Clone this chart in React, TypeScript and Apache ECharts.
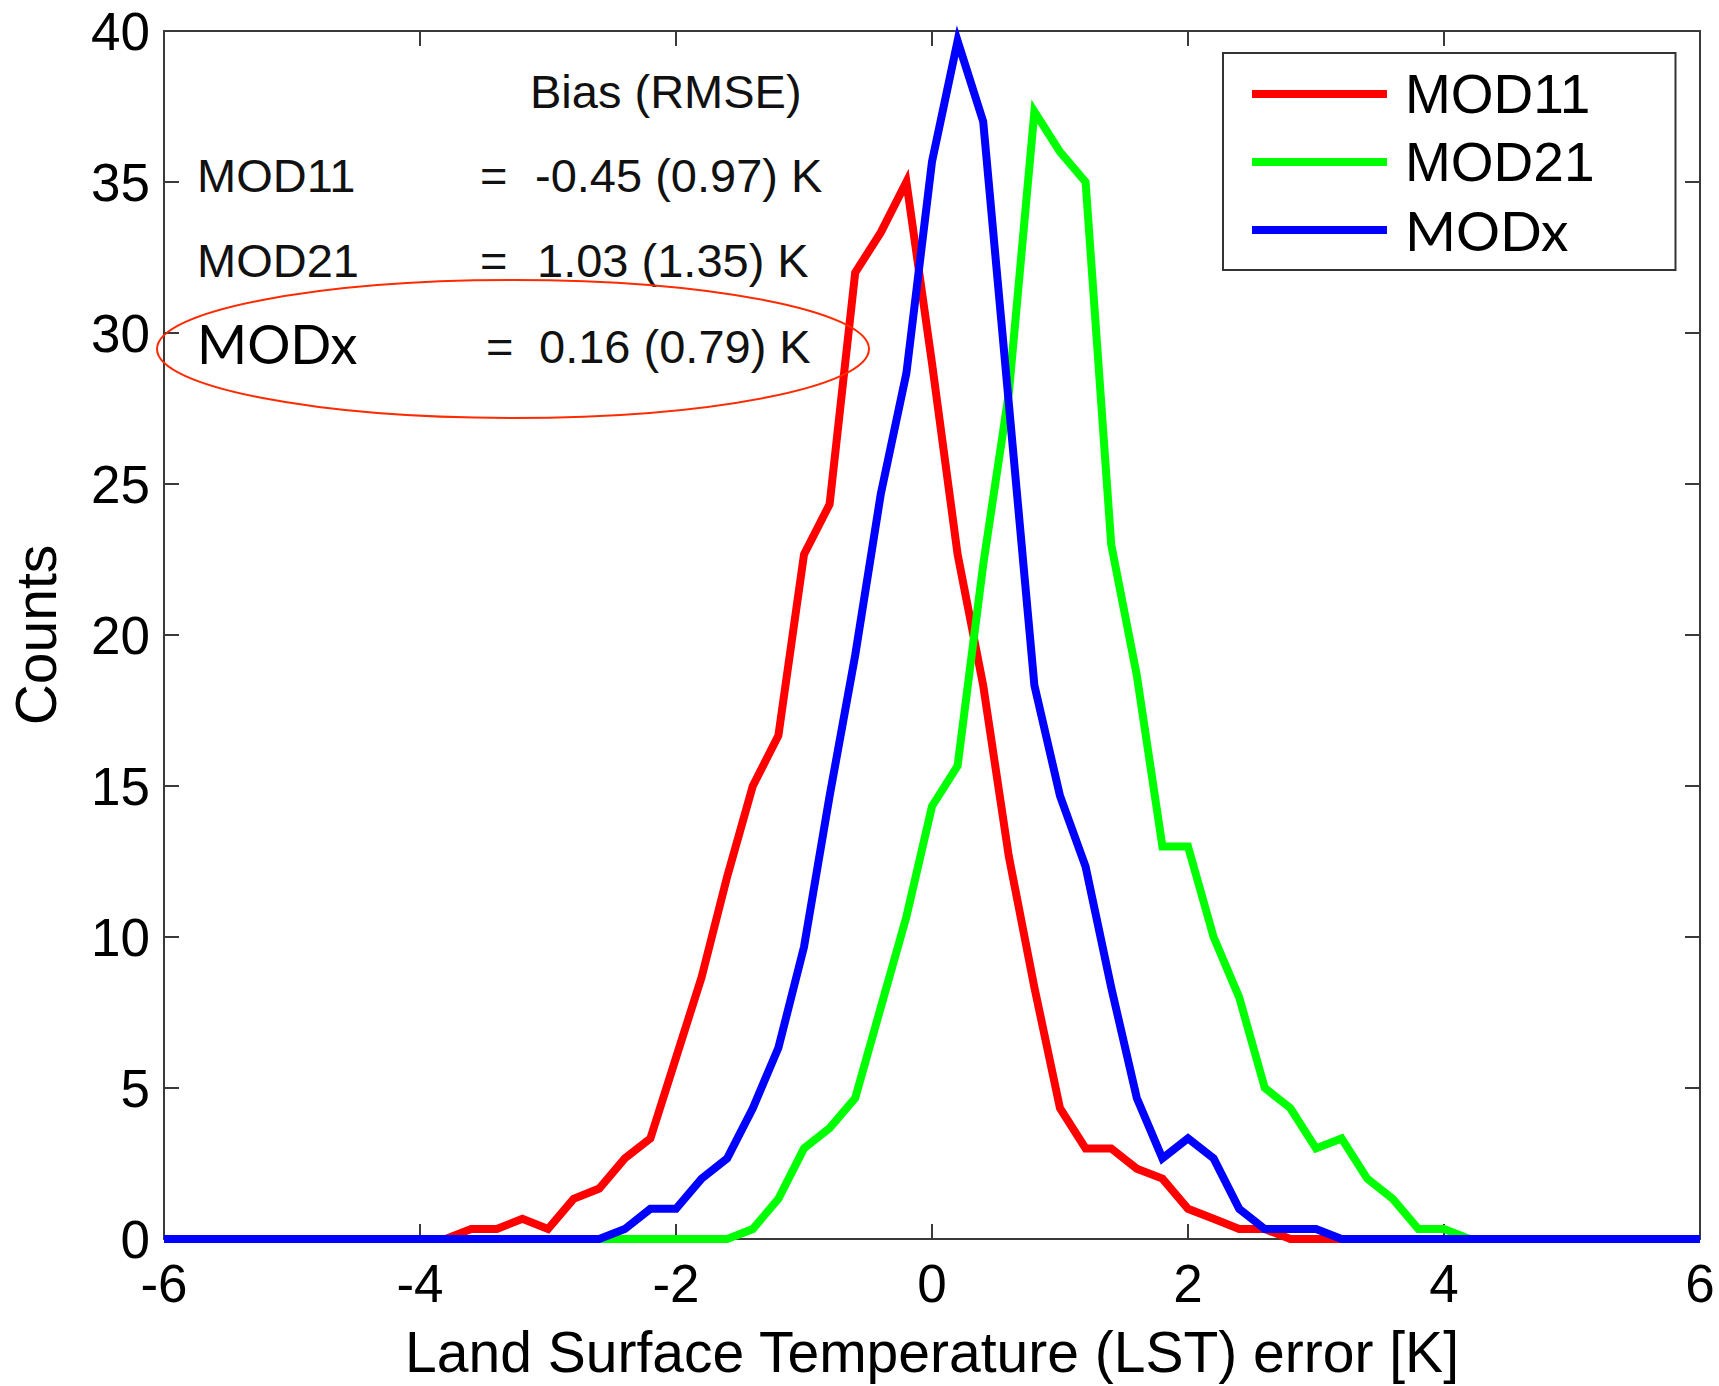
import React, { useEffect, useRef } from "react";
import * as echarts from "echarts";

// LST error bin centres [K]
const xBins = [
  -6, -5.8, -5.6, -5.4, -5.2, -5, -4.8, -4.6, -4.4, -4.2, -4, -3.8, -3.6, -3.4, -3.2, -3, -2.8, -2.6, -2.4, -2.2,
  -2, -1.8, -1.6, -1.4, -1.2, -1, -0.8, -0.6, -0.4, -0.2, 0, 0.2, 0.4, 0.6, 0.8, 1, 1.2, 1.4, 1.6, 1.8,
  2, 2.2, 2.4, 2.6, 2.8, 3, 3.2, 3.4, 3.6, 3.8, 4, 4.2, 4.4, 4.6, 4.8, 5, 5.2, 5.4, 5.6, 5.8, 6,
];

const mod11 = [
  0, 0, 0, 0, 0, 0, 0, 0, 0, 0, 0, 0,
  0.33, 0.33, 0.67, 0.33, 1.33, 1.67, 2.67, 3.33,
  6, 8.67, 12, 15, 16.67, 22.67, 24.33, 32, 33.33, 35,
  29, 22.67, 18.33, 12.67, 8.33, 4.33, 3, 3, 2.33, 2,
  1, 0.67, 0.33, 0.33,
  0, 0, 0, 0, 0, 0, 0, 0, 0, 0, 0, 0, 0, 0, 0, 0, 0,
];

const mod21 = [
  0, 0, 0, 0, 0, 0, 0, 0, 0, 0, 0, 0, 0, 0, 0, 0, 0, 0, 0, 0, 0, 0, 0,
  0.33, 1.33, 3, 3.67, 4.67, 7.67, 10.67,
  14.33, 15.67, 22.33, 28, 37.33, 36, 35, 23, 18.67, 13,
  13, 10, 8, 5, 4.33, 3, 3.33, 2, 1.33, 0.33, 0.33,
  0, 0, 0, 0, 0, 0, 0, 0, 0, 0,
];

const modx = [
  0, 0, 0, 0, 0, 0, 0, 0, 0, 0, 0, 0, 0, 0, 0, 0, 0, 0,
  0.33, 1, 1, 2, 2.67, 4.33, 6.33, 9.67, 14.67, 19.33, 24.67, 28.67,
  35.67, 39.67, 37, 27.67, 18.33, 14.67, 12.33, 8.33, 4.67, 2.67,
  3.33, 2.67, 1, 0.33, 0.33, 0.33,
  0, 0, 0, 0, 0, 0, 0, 0, 0, 0, 0, 0, 0, 0, 0,
];

const seriesNames = ["MOD11", "MOD21", "MODx"];
const seriesColors = ["#ff0000", "#00ff00", "#0000ff"];
const statLabels = ["MOD11", "MOD21", "MODx"];
const statValues = ["-0.45 (0.97) K", "1.03 (1.35) K", "0.16 (0.79) K"];
const statsTitle = "Bias (RMSE)";

const HELV = "'Liberation Sans', Arial, Helvetica, sans-serif";
const CALI = "Lato, 'Open Sans', sans-serif";

export default function App() {
  const ref = useRef<HTMLDivElement>(null);

  useEffect(() => {
    document.body.style.margin = "0";
    if (!ref.current) return;
    const chart = echarts.init(ref.current, undefined, { renderer: "svg" });

    const values = [mod11, mod21, modx];
    const axisLine = { show: true, onZero: false, lineStyle: { color: "#3a3a3a", width: 2 } };
    const axisTick = { show: true, inside: true, length: 15, lineStyle: { color: "#3a3a3a", width: 2 } };

    const option: any = {
      animation: false,
      backgroundColor: "#ffffff",
      grid: { left: 164, top: 31, width: 1536, height: 1208, containLabel: false, outerBoundsMode: "none" },
      xAxis: [
        {
          type: "value",
          min: -6,
          max: 6,
          interval: 2,
          position: "bottom",
          axisLine,
          axisTick,
          splitLine: { show: false },
          axisLabel: { fontSize: 53, fontFamily: HELV, color: "#000", margin: 18 },
          name: "Land Surface Temperature (LST) error [K]",
          nameLocation: "middle",
          nameGap: 84,
          nameTextStyle: { fontSize: 57, fontFamily: HELV, color: "#000" },
        },
        {
          type: "value",
          min: -6,
          max: 6,
          interval: 2,
          position: "top",
          axisLine,
          axisTick,
          splitLine: { show: false },
          axisLabel: { show: false },
        },
      ],
      yAxis: [
        {
          type: "value",
          min: 0,
          max: 40,
          interval: 5,
          position: "left",
          axisLine,
          axisTick,
          splitLine: { show: false },
          axisLabel: { fontSize: 53, fontFamily: HELV, color: "#000", margin: 14 },
          name: "Counts",
          nameLocation: "middle",
          nameRotate: 90,
          nameGap: 100,
          nameTextStyle: { fontSize: 57, fontFamily: HELV, color: "#000" },
        },
        {
          type: "value",
          min: 0,
          max: 40,
          interval: 5,
          position: "right",
          axisLine,
          axisTick,
          splitLine: { show: false },
          axisLabel: { show: false },
        },
      ],
      legend: {
        orient: "vertical",
        left: 1223,
        top: 53,
        padding: [13, 81, 12, 29],
        borderColor: "#333",
        borderWidth: 2,
        backgroundColor: "#ffffff",
        icon: "rect",
        itemWidth: 135,
        itemHeight: 8,
        itemGap: 12,
        selectedMode: false,
        textStyle: { fontSize: 55, lineHeight: 56, fontFamily: HELV, color: "#000", padding: [0, 0, 0, 13] },
        data: [
          { name: seriesNames[0] },
          { name: seriesNames[1] },
          { name: seriesNames[2], textStyle: { fontFamily: CALI, fontSize: 55 } },
        ],
      },
      series: seriesNames.map((name, k) => ({
        name,
        type: "line",
        xAxisIndex: 0,
        yAxisIndex: 0,
        data: xBins.map((x, i) => [x, values[k][i]]),
        symbol: "none",
        showSymbol: false,
        clip: false,
        color: seriesColors[k],
        itemStyle: { color: seriesColors[k] },
        lineStyle: { color: seriesColors[k], width: 8, join: "miter" },
        z: 2 + k,
      })),
      graphic: [
        {
          type: "text",
          x: 530,
          y: 91,
          style: { text: statsTitle, fontSize: 47, fontFamily: HELV, fill: "#111", align: "left", verticalAlign: "middle" },
        },
        {
          type: "text",
          x: 197,
          y: 175,
          style: { text: statLabels[0], fontSize: 47, fontFamily: HELV, fill: "#111", align: "left", verticalAlign: "middle" },
        },
        {
          type: "text",
          x: 480,
          y: 175,
          style: { text: "=", fontSize: 47, fontFamily: HELV, fill: "#111", align: "left", verticalAlign: "middle" },
        },
        {
          type: "text",
          x: 535,
          y: 175,
          style: { text: statValues[0], fontSize: 47, fontFamily: HELV, fill: "#111", align: "left", verticalAlign: "middle" },
        },
        {
          type: "text",
          x: 197,
          y: 260,
          style: { text: statLabels[1], fontSize: 47, fontFamily: HELV, fill: "#111", align: "left", verticalAlign: "middle" },
        },
        {
          type: "text",
          x: 480,
          y: 260,
          style: { text: "=", fontSize: 47, fontFamily: HELV, fill: "#111", align: "left", verticalAlign: "middle" },
        },
        {
          type: "text",
          x: 537,
          y: 260,
          style: { text: statValues[1], fontSize: 47, fontFamily: HELV, fill: "#111", align: "left", verticalAlign: "middle" },
        },
        {
          type: "text",
          x: 197,
          y: 343,
          style: { text: statLabels[2], fontSize: 54, fontFamily: CALI, fill: "#000", align: "left", verticalAlign: "middle" },
        },
        {
          type: "text",
          x: 486,
          y: 346,
          style: { text: "=", fontSize: 47, fontFamily: HELV, fill: "#111", align: "left", verticalAlign: "middle" },
        },
        {
          type: "text",
          x: 539,
          y: 346,
          style: { text: statValues[2], fontSize: 47, fontFamily: HELV, fill: "#111", align: "left", verticalAlign: "middle" },
        },
        {
          type: "ellipse",
          shape: { cx: 513, cy: 349, rx: 356, ry: 69 },
          style: { fill: "none", stroke: "#ff2a00", lineWidth: 2 },
          z: 100,
        },
      ],
    };

    chart.setOption(option);
    return () => chart.dispose();
  }, []);

  return <div ref={ref} style={{ width: 1719, height: 1386 }} />;
}
